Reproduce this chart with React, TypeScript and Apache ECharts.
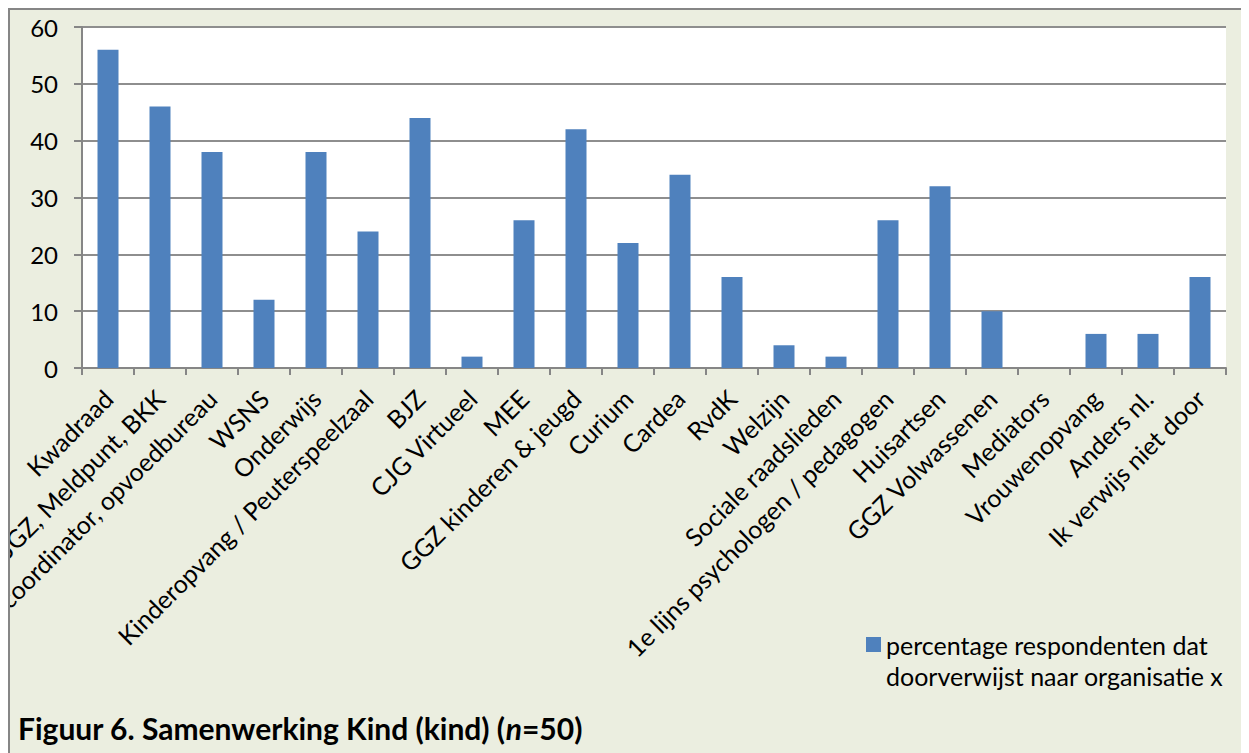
import React, { useEffect, useRef } from "react";
import * as echarts from "echarts";

const categories = [
  "Kwadraad",
  "JGZ, Meldpunt, BKK",
  "coordinator, opvoedbureau",
  "WSNS",
  "Onderwijs",
  "Kinderopvang / Peuterspeelzaal",
  "BJZ",
  "CJG Virtueel",
  "MEE",
  "GGZ kinderen & jeugd",
  "Curium",
  "Cardea",
  "RvdK",
  "Welzijn",
  "Sociale raadslieden",
  "1e lijns psychologen / pedagogen",
  "Huisartsen",
  "GGZ Volwassenen",
  "Mediators",
  "Vrouwenopvang",
  "Anders nl.",
  "Ik verwijs niet door",
];

const values = [56, 46, 38, 12, 38, 24, 44, 2, 26, 42, 22, 34, 16, 4, 2, 26, 32, 10, 0, 6, 6, 16];

const seriesName = "percentage respondenten dat\ndoorverwijst naar organisatie x";
const titleParts = ["Figuur 6. Samenwerking Kind (kind) (", "n", "=50)"];

const FONT = "Lato, 'Open Sans', sans-serif";

export default function App() {
  const ref = useRef<HTMLDivElement>(null);
  useEffect(() => {
    if (!ref.current) return;
    const chart = echarts.init(ref.current, undefined, { renderer: "svg" });
    chart.setOption({
      animation: false,
      backgroundColor: "#EBEEE0",
      textStyle: { fontFamily: FONT },
      grid: {
        left: 74,
        top: 19,
        width: 1144,
        height: 341,
        containLabel: false,
        outerBoundsMode: "none",
        show: true,
        backgroundColor: "#ffffff",
        borderWidth: 0,
      },
      xAxis: {
        type: "category",
        data: categories,
        axisLine: { lineStyle: { color: "#868686", width: 2 } },
        axisTick: { show: true, length: 7, lineStyle: { color: "#868686", width: 2 } },
        axisLabel: {
          interval: 0,
          rotate: 45,
          margin: 26,
          color: "#000",
          fontSize: 25,
          fontFamily: FONT,
        },
      },
      yAxis: {
        type: "value",
        min: 0,
        max: 60,
        interval: 10,
        axisLine: { show: true, lineStyle: { color: "#868686", width: 2 } },
        axisTick: { show: true, length: 8, lineStyle: { color: "#868686", width: 2 } },
        splitLine: { lineStyle: { color: "#8E8E8E", width: 2 } },
        axisLabel: { margin: 24, color: "#000", fontSize: 24, fontFamily: FONT },
      },
      legend: {
        show: true,
        left: 858,
        top: 590,
        padding: 0,
        itemWidth: 15,
        itemHeight: 15,
        itemGap: 0,
        icon: "rect",
        formatter: (name: string) => " \n" + name,
        textStyle: {
          fontSize: 25,
          lineHeight: 31,
          color: "#000",
          fontFamily: FONT,
        },
      },
      series: [
        {
          type: "bar",
          name: seriesName,
          data: values,
          barWidth: 21,
          itemStyle: { color: "#4F81BD" },
        },
      ],
      graphic: [
        {
          type: "rect",
          shape: { x: 1, y: 1, width: 1233, height: 800 },
          style: { fill: "none", stroke: "#868686", lineWidth: 2 },
          silent: true,
          z: 100,
        },
        {
          type: "text",
          left: 10,
          top: 705,
          style: {
            text: `{b|${titleParts[0]}}{i|${titleParts[1]}}{b|${titleParts[2]}}`,
            rich: {
              b: { fontFamily: FONT, fontWeight: "bold", fontSize: 30, fill: "#000" },
              i: { fontFamily: FONT, fontWeight: "bold", fontStyle: "italic", fontSize: 30, fill: "#000" },
            },
          },
        },
      ],
    });
    return () => chart.dispose();
  }, []);
  return <div ref={ref} style={{ width: 1235, height: 745 }} />;
}
